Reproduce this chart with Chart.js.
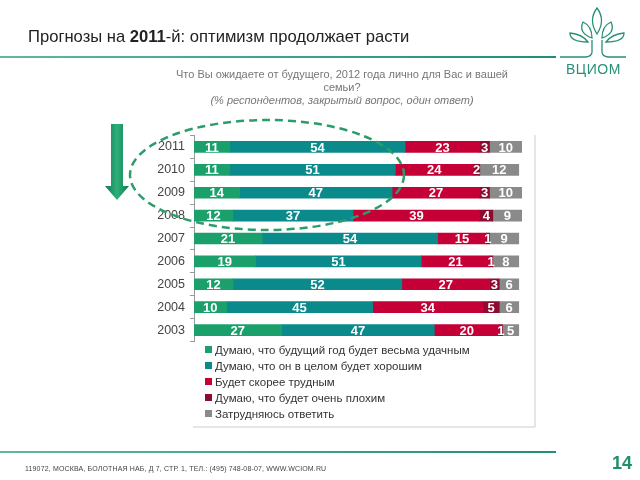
<!DOCTYPE html>
<html>
<head>
<meta charset="utf-8">
<script src="https://cdn.jsdelivr.net/npm/chart.js@4"></script>
<style>
  body { margin: 0; width: 640px; height: 480px; position: relative; background: #fff; overflow: hidden; font-family: "Liberation Sans", Arial, sans-serif; }
  #chart { position: absolute; left: 0; top: 0; }
  svg { position: absolute; left: 0; top: 0; }
  .txt { position: absolute; white-space: nowrap; }
  #title { left: 28px; top: 27px; font-size: 16.6px; color: #222; }
  #sub { left: 142px; width: 400px; top: 68px; text-align: center; font-size: 11px; color: #777; line-height: 13px; }
  #legend { left: 205px; top: 342px; font-size: 11.5px; color: #333; }
  #legend div { height: 16px; line-height: 16px; }
  #legend span { display: inline-block; width: 7px; height: 7px; margin-right: 3px; vertical-align: 1px; }
  #footer { left: 25px; top: 465px; font-size: 7px; color: #444; letter-spacing: 0.15px; }
  #page { left: 612px; top: 453px; font-size: 18px; font-weight: bold; color: #1f8f6f; }
  #logo { left: 566px; top: 61px; font-size: 14px; color: #2a8f78; letter-spacing: 0.5px; }
</style>
</head>
<body>
<canvas id="chart" width="640" height="480"></canvas>
<svg width="640" height="480">
  <defs>
    <linearGradient id="ln" x1="0" x2="1">
      <stop offset="0" stop-color="#5fb8a0"/>
      <stop offset="1" stop-color="#1f8f78"/>
    </linearGradient>
    <linearGradient id="ar" x1="0" x2="1">
      <stop offset="0" stop-color="#0f7a50"/>
      <stop offset="0.5" stop-color="#2eb07a"/>
      <stop offset="1" stop-color="#0f7a50"/>
    </linearGradient>
  </defs>
  <rect x="0" y="56" width="556" height="2" fill="url(#ln)"/>
  <rect x="0" y="451" width="556" height="2" fill="url(#ln)"/>
  <path d="M111 124 H123 V186 H129 L117 200 L105 186 H111 Z" fill="url(#ar)"/>
  <ellipse cx="267" cy="175" rx="137" ry="55" fill="none" stroke="#2a9d6a" stroke-width="2.5" stroke-dasharray="8 5"/>
  <line x1="535" y1="135" x2="535" y2="427" stroke="#ccc" stroke-width="1"/>
  <line x1="193" y1="427" x2="535" y2="427" stroke="#ccc" stroke-width="1"/>
  <g fill="none" stroke="#2a8f78" stroke-width="1.3">
    <path d="M597 8 Q588 20 597 34 Q606 20 597 8 Z"/>
    <path d="M583 22 Q578 33 592 38 Q592 26 583 22 Z"/>
    <path d="M611 22 Q616 33 602 38 Q602 26 611 22 Z"/>
    <path d="M570 33 Q570 42 588 42 Q582 34 570 33 Z"/>
    <path d="M624 33 Q624 42 606 42 Q612 34 624 33 Z"/>
    <path d="M592 40 V52 Q592 56 586 57 H560"/>
    <path d="M602 40 V52 Q602 56 608 57 H626"/>
  </g>
</svg>
<div id="title" class="txt">Прогнозы на <b>2011</b>-й: оптимизм продолжает расти</div>
<div id="sub" class="txt">Что Вы ожидаете от будущего, 2012 года лично для Вас и вашей<br>семьи?<br><i>(% респондентов, закрытый вопрос, один ответ)</i></div>
<div id="legend" class="txt"></div>
<div id="footer" class="txt">119072, МОСКВА, БОЛОТНАЯ НАБ, Д 7, СТР. 1, ТЕЛ.: (495) 748-08-07, WWW.WCIOM.RU</div>
<div id="page" class="txt">14</div>
<div id="logo" class="txt">ВЦИОМ</div>
<script>
const years = ['2011', '2010', '2009', '2008', '2007', '2006', '2005', '2004', '2003'];
const veryGood = [11, 11, 14, 12, 21, 19, 12, 10, 27];
const good = [54, 51, 47, 37, 54, 51, 52, 45, 47];
const hard = [23, 24, 27, 39, 15, 21, 27, 34, 20];
const veryBad = [3, 2, 3, 4, 1, 1, 3, 5, 1];
const unsure = [10, 12, 10, 9, 9, 8, 6, 6, 5];
const seriesNames = [
    'Думаю, что будущий год будет весьма удачным',
    'Думаю, что он в целом будет хорошим',
    'Будет скорее трудным',
    'Думаю, что будет очень плохим',
    'Затрудняюсь ответить'
];
const colors = ['#1ba06c', '#0b8a8c', '#c40036', '#8e0b30', '#8a8a8a'];

const series = [veryGood, good, hard, veryBad, unsure];

const legend = document.getElementById('legend');
seriesNames.forEach((name, i) => {
    const row = document.createElement('div');
    row.innerHTML = '<span style="background:' + colors[i] + '"></span>' + name;
    legend.appendChild(row);
});

const segmentLabels = {
    id: 'segmentLabels',
    afterDatasetsDraw(chart) {
        const ctx = chart.ctx;
        ctx.save();
        ctx.fillStyle = '#fff';
        ctx.font = 'bold 13px "Liberation Sans", Arial, sans-serif';
        ctx.textAlign = 'center';
        ctx.textBaseline = 'middle';
        chart.data.datasets.forEach((ds, di) => {
            chart.getDatasetMeta(di).data.forEach((bar, i) => {
                const c = bar.getCenterPoint();
                ctx.fillText(String(ds.data[i]), c.x, c.y + 1);
            });
        });
        ctx.restore();
    }
};

new Chart(document.getElementById('chart'), {
    type: 'bar',
    data: {
        labels: years,
        datasets: series.map((data, i) => ({
            label: seriesNames[i],
            data: data,
            backgroundColor: colors[i],
            borderWidth: 0,
            barThickness: 11
        }))
    },
    options: {
        indexAxis: 'y',
        responsive: false,
        animation: false,
        devicePixelRatio: 1,
        layout: { padding: { left: 134, right: 118, top: 135.5, bottom: 138.5 } },
        plugins: {
            legend: { display: false },
            tooltip: { enabled: false }
        },
        scales: {
            x: {
                stacked: true,
                display: false,
                min: 0,
                max: 101
            },
            y: {
                stacked: true,
                afterFit(scale) { scale.width = 60; },
                border: { color: '#999' },
                grid: { drawOnChartArea: false, offset: true, tickLength: 4, color: '#999' },
                ticks: {
                    color: '#444',
                    padding: 5,
                    font: { size: 12.5, family: '"Liberation Sans", Arial, sans-serif' }
                }
            }
        }
    },
    plugins: [segmentLabels]
});
</script>
</body>
</html>
